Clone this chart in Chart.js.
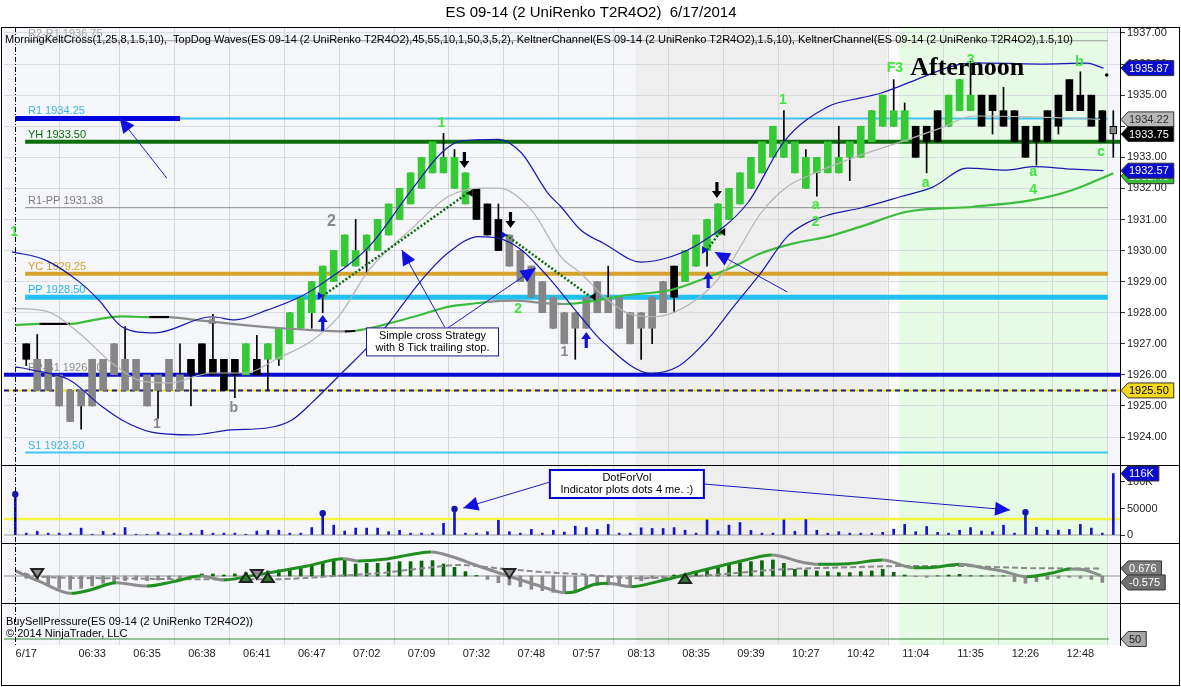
<!DOCTYPE html>
<html>
<head>
<meta charset="utf-8">
<title>ES 09-14 (2 UniRenko T2R4O2) 6/17/2014</title>
<script src="https://cdn.jsdelivr.net/npm/chart.js@4.4.1/dist/chart.umd.min.js"></script>
<style>
  html, body { margin: 0; padding: 0; background: #fff; }
  #wrap { width: 1181px; height: 687px; }
</style>
</head>
<body>
<div id="wrap"><canvas id="chart" width="1181" height="687"></canvas></div>
<script>
// ---- axis labels ----
const xTickIdx = [0, 6, 11, 16, 21, 26, 31, 36, 41, 46, 51, 56, 61, 66, 71, 76, 81, 86, 91, 96];
const xTickLabels = ['6/17', '06:33', '06:35', '06:38', '06:41', '06:47', '07:02', '07:09', '07:32', '07:48',
  '07:57', '08:13', '08:35', '09:39', '10:27', '10:42', '11:04', '11:35', '12:26', '12:48'];
const priceTicks = [1924, 1925, 1926, 1927, 1928, 1929, 1930, 1931, 1932, 1933, 1934, 1935, 1936, 1937];
const volTicks = [0, 50000, 100000];
const volTickLabels = ['0', '50000', '100K'];

// ---- renko bars (index 0..99) ----
const opens = [
  1927.0, 1926.5, 1926.5, 1926.0, 1925.5, 1925.5, 1926.5, 1926.5, 1927.0, 1926.5,
  1926.5, 1926.0, 1926.0, 1926.5, 1926.0, 1926.5, 1927.0, 1926.5, 1926.5, 1926.5,
  1926.0, 1926.5, 1926.5, 1926.5, 1927.0, 1927.5, 1928.0, 1928.5, 1929.0, 1929.5,
  1929.5, 1930.0, 1930.0, 1930.5, 1931.0, 1931.5, 1932.0, 1932.5, 1932.5, 1932.0,
  1931.5, 1932.0, 1931.5, 1931.0, 1930.5, 1930.0, 1929.5, 1929.0, 1928.5, 1928.0,
  1928.0, 1928.5, 1929.0, 1928.5, 1928.5, 1928.0, 1928.0, 1928.5, 1929.0, 1929.5,
  1929.0, 1929.5, 1930.0, 1930.5, 1931.0, 1931.5, 1932.0, 1932.5, 1933.0, 1933.0,
  1932.5, 1932.0, 1932.5, 1932.5, 1932.5, 1933.0, 1933.0, 1933.5, 1934.0, 1934.0,
  1933.5, 1934.0, 1934.0, 1933.5, 1934.0, 1934.5, 1934.5, 1935.0, 1935.0, 1934.5,
  1934.5, 1934.0, 1934.0, 1933.5, 1934.0, 1934.5, 1935.0, 1935.0, 1934.5, 1934.0];
const closes = [
  1926.5, 1925.5, 1925.5, 1925.0, 1924.5, 1925.0, 1925.0, 1925.5, 1926.0, 1925.5,
  1925.5, 1925.0, 1925.5, 1925.5, 1925.5, 1926.0, 1926.0, 1926.0, 1925.5, 1926.0,
  1927.0, 1926.0, 1927.0, 1927.5, 1928.0, 1928.5, 1929.0, 1929.5, 1930.0, 1930.5,
  1930.0, 1930.5, 1931.0, 1931.5, 1932.0, 1932.5, 1933.0, 1933.5, 1933.0, 1933.0,
  1932.5, 1931.0, 1930.5, 1930.0, 1929.5, 1929.0, 1928.5, 1928.0, 1927.5, 1927.0,
  1927.5, 1927.5, 1928.0, 1928.0, 1927.5, 1927.0, 1927.5, 1927.5, 1928.0, 1928.5,
  1930.0, 1930.5, 1931.0, 1931.5, 1932.0, 1932.5, 1933.0, 1933.5, 1934.0, 1933.5,
  1933.5, 1933.0, 1933.0, 1933.5, 1933.0, 1933.5, 1934.0, 1934.5, 1935.0, 1934.5,
  1934.5, 1933.0, 1933.5, 1934.5, 1935.0, 1935.5, 1935.0, 1934.0, 1934.5, 1934.0,
  1933.5, 1933.0, 1933.5, 1934.5, 1935.0, 1935.5, 1934.5, 1934.0, 1933.5, 1933.75];
// wick extremes where they reach past the body (null = none)
const highs = [
  null, 1927.3, null, null, null, null, null, null, null, 1927.55,
  null, null, null, null, 1927.0, null, null, 1927.95, null, null,
  null, 1927.27, null, null, null, null, null, null, null, null,
  1931.0, null, null, null, null, null, null, null, 1933.77, 1933.25,
  null, null, null, 1931.5, null, null, null, null, null, null,
  null, null, null, 1929.5, null, null, null, null, null, null,
  null, null, null, null, null, null, null, null, null, 1934.5,
  null, 1933.25, null, null, 1934.0, null, null, null, null, 1935.5,
  1934.75, null, null, null, null, null, 1936.1, null, null, 1935.25,
  null, null, null, null, null, null, 1935.75, null, null, 1934.5];
const lows = [
  1926.3, null, null, null, null, 1924.25, null, null, null, null,
  null, null, 1924.6, null, null, 1925.0, null, null, null, 1925.27,
  null, null, 1925.5, 1926.3, null, null, 1927.5, 1928.0, null, null,
  null, 1929.27, null, null, null, null, null, null, null, null,
  null, null, null, null, null, null, null, null, null, null,
  1926.5, null, null, null, null, null, 1926.5, 1927.0, null, 1928.0,
  null, null, 1929.5, null, null, null, null, null, null, null,
  null, null, 1931.75, null, null, 1932.25, null, null, null, null,
  null, null, 1932.5, null, null, null, null, null, 1933.75, null,
  null, null, 1932.75, null, 1933.75, null, null, null, null, 1933.0];
// paint state of each bar: G = up wave, K = neutral, S = down wave
const barPaint = [
  'K','S','S','S','S','S','S','S','S','S',
  'S','S','S','S','S','K','K','K','K','K',
  'G','K','G','G','G','G','G','G','G','G',
  'G','G','G','G','G','G','G','G','G','G',
  'G','K','K','K','S','S','S','S','S','S',
  'S','S','S','S','S','S','S','S','S','K',
  'G','G','G','G','G','G','G','G','G','G',
  'G','G','G','G','G','G','G','G','G','G',
  'G','K','K','K','G','G','G','K','K','K',
  'K','K','K','K','K','K','K','K','K','S'];

// ---- indicator lines, read as [bar index, value] ----
const keltUpper = [[-1.3,1929.96],[1.7,1929.7],[4.8,1929.0],[6.6,1928.41],[8.7,1927.55],[11.7,1927.35],[16.9,1927.87],
  [19,1927.77],[22,1928.09],[25,1928.52],[27.2,1929.0],[31.2,1930.12],[35.3,1932.05],[37.8,1933.14],[39.6,1933.53],
  [43,1933.58],[45.1,1933.14],[47.5,1931.85],[48.7,1931.41],[50.5,1930.66],[52.6,1930.23],[56,1929.63],[58.7,1929.8],
  [61.4,1930.24],[65.7,1931.53],[69,1933.5],[73,1934.63],[76,1934.91],[77.8,1935.06],[81.7,1935.59],[84.2,1935.92],
  [86.3,1936.04],[92.3,1936.0],[96.6,1936.03],[98.1,1935.87]];
const keltLower = [[-1,1926.26],[0.5,1926.16],[3.9,1925.84],[6.9,1924.98],[8.7,1924.55],[11.4,1924.16],[15.1,1924.07],
  [18.7,1924.23],[21.9,1924.29],[24.2,1924.55],[26,1925.1],[28.4,1925.94],[32.3,1927.35],[36,1929.05],[38.4,1929.92],
  [41.2,1930.45],[43,1930.4],[45.1,1930.02],[47.5,1929.16],[50.5,1927.87],[52.6,1927.03],[56.9,1926.05],[59.3,1926.26],
  [62,1927.12],[64.4,1928.19],[66.9,1929.28],[69.3,1930.45],[71.1,1930.89],[73,1931.14],[76,1931.37],[79.6,1931.73],
  [82.6,1932.05],[85.7,1932.65],[89.3,1932.59],[91.7,1932.7],[95.3,1932.62],[98.1,1932.57]];
const keltMid = [[-1.3,1928.14],[1.7,1928.06],[4.8,1927.35],[7.8,1926.38],[10.8,1925.78],[13,1925.74],[16.9,1926.06],
  [19.9,1926.06],[23,1926.55],[26,1927.1],[28.5,1927.9],[31.2,1929.37],[35.3,1930.77],[38.4,1931.73],[41.4,1932.01],
  [43,1932.01],[46,1931.31],[48.7,1929.8],[50.5,1929.27],[52.6,1928.52],[54.8,1927.98],[57.2,1927.87],[61.4,1928.52],
  [63.9,1929.48],[66.9,1931.2],[69.3,1932.05],[71.4,1932.43],[76,1933.07],[80.2,1933.56],[83.2,1933.93],[86.3,1934.33],
  [91.5,1934.3],[97.8,1934.22]];
const waveAvg = [[-1,1927.6],[1.2,1927.64],[4,1927.64],[6.2,1927.77],[8.7,1927.88],[11.2,1927.86],[13,1927.86],
  [15.3,1927.77],[19.9,1927.6],[23.3,1927.5],[26,1927.44],[29,1927.4],[30,1927.42],[35.3,1927.87],[38.4,1928.19],
  [41.4,1928.32],[42,1928.35],[44.4,1928.39],[47.5,1928.3],[49,1928.28],[54.8,1928.57],[58.7,1928.73],[61.4,1929.05],
  [64.4,1929.48],[66.9,1929.91],[69.9,1930.23],[73,1930.45],[76,1930.77],[80.2,1931.25],[86.3,1931.41],[91.7,1931.63],
  [95.3,1931.95],[99,1932.49]];
const waveAvgState = ['up','flat','up','up','up','flat','down','down','down','down','down','flat','up','up','up','up',
  'down','down','down','up','up','up','up','up','up','up','up','up','up','up','up','up','up'];

// ---- pivot levels and drawn lines ----
const levelNames = ['R2-R1', 'R1', 'YH', 'R1-PP', 'YC', 'PP', 'PP-S1', 'S1'];
const levelValues = [1936.75, 1934.25, 1933.50, 1931.38, 1929.25, 1928.50, 1926.00, 1923.50];
const drawnLines = [1926.00, 1925.50];

// ---- volume (index -1..99) ----
const volFirst = -1;
const volume = [
  77000, 3500, 6800, 3500, 3500, 3500, 13000, 1500, 6800, 3500, 14000,
  1500, 1500, 5500, 3500, 3500, 3500, 9000, 3500, 3500, 3500,
  1500, 7400, 8600, 9000, 3500, 3500, 14000, 41000, 18500, 7400,
  13000, 13000, 13000, 6200, 9000, 3500, 3500, 3500, 22000, 49000,
  3500, 3500, 6200, 27800, 6200, 3500, 10500, 3500, 9000, 5500,
  16700, 14000, 10500, 20000, 3500, 3500, 13600, 12300, 12300, 14000,
  9000, 3500, 28400, 7400, 18500, 23500, 8600, 3500, 3500, 28400,
  6800, 29000, 9000, 3500, 6200, 3500, 3500, 3500, 5000, 11000,
  20000, 6200, 16000, 5000, 3500, 9000, 14000, 7400, 6200, 18500,
  3500, 43000, 14800, 9000, 9000, 10500, 20000, 13000, 3500, 116000];
const volThreshold = 30000;
const volDotIdx = [-1, 27, 39, 91];

// ---- TopDog oscillator (index 0..98) ----
const oscHist = [
  -0.2, -0.36, -0.8, -1.1, -1.19, -1.1, -0.89, -0.65, -0.5, -0.42,
  -0.36, -0.42, -0.36, -0.3, -0.21, -0.12, 0.18, 0.18, 0.09, 0.18,
  0.3, 0.15, 0.45, 0.54, 0.68, 0.83, 1.04, 1.22, 1.34, 1.43,
  1.07, 1.13, 1.13, 1.19, 1.28, 1.28, 1.34, 1.37, 1.07, 0.77,
  0.39, 0.05, -0.3, -0.6, -0.8, -0.95, -1.19, -1.31, -1.46, -1.55,
  -1.4, -1.0, -0.85, -0.8, -0.71, -0.95, -0.42, -0.21, -0.12, 0.09,
  0.15, 0.39, 0.6, 0.77, 1.04, 1.19, 1.28, 1.37, 1.43, 1.13,
  0.6, 0.54, 0.45, 0.39, 0.3, 0.3, 0.39, 0.45, 0.6, 0.33,
  0.09, -0.06, -0.12, 0.02, 0.09, 0.15, 0.03, 0.02, 0.02, 0.02,
  -0.5, -0.65, -0.5, -0.3, -0.2, -0.12, -0.2, -0.3, -0.575];
const oscFast = [[-1,0.45],[1.25,-0.5],[4.1,-1.55],[5.8,-1.25],[8.2,-0.6],[11,-0.9],[13.4,-0.5],[15.9,0],[18,-0.36],
  [20.1,-0.05],[22.2,0.3],[25.6,0.9],[28.9,1.55],[30.2,1.34],[32.6,1.49],[35.3,1.96],[36.9,2.14],[38.8,1.72],[40.9,0.98],
  [44.1,-0.06],[46.5,-0.8],[49.1,-1.49],[50,-1.4],[51.9,-0.71],[53,-0.65],[55.1,-0.95],[57.5,-0.5],[59.9,0.09],[62.7,0.78],
  [65.5,1.43],[67.9,1.88],[70.7,1.22],[72.1,1.05],[74.9,1.1],[78,1.43],[80.8,0.74],[82.2,0.74],[85,1.04],[87.4,0.69],
  [88.8,0.47],[91.1,-0.06],[93.3,0.24],[95.1,0.63],[96.4,0.54],[97.9,0.03]];
const oscSlow = [[-1,0.45],[1.25,-0.06],[8.2,-0.2],[15.2,-0.3],[22.2,-0.3],[28.1,0],[32.6,0.3],[36.1,0.69],[39.5,0.98],
  [43,0.69],[46.5,0.39],[50.5,0.15],[55.7,-0.2],[59.9,-0.06],[64.4,0.24],[67.9,0.54],[74.9,0.78],[80.1,0.89],[85.3,0.89],
  [88.8,0.78],[92.3,0.69],[97.9,0.676]];
const oscSellMarks = [[1, 0.27], [21, 0.18], [44, 0.27]];
const oscBuyMarks = [[20, -0.18], [22, -0.18], [60, -0.27]];
const bspLevel = 50;

// ---- sessions and chart notes ----
const sessionBreak = -1;
const sessionShades = [[55.5, 78.45, 'midday'], [78.45, 79.5, 'gap'], [79.5, 98.5, 'afternoon']];
const waveLabels = [
  ['1', -1.1, 1930.6, 'up'], ['2', 27.8, 1930.92, 'dn'], ['1', 37.8, 1934.1, 'up'], ['1', 11.9, 1924.42, 'dn'],
  ['b', 18.9, 1924.93, 'dn'], ['a', 16.9, 1927.77, 'dn'], ['2', 44.8, 1928.12, 'up'], ['1', 49, 1926.74, 'dn'],
  ['1', 68.9, 1934.84, 'up'], ['a', 71.9, 1931.47, 'up'], ['2', 71.9, 1930.92, 'up'], ['F3', 79.1, 1935.87, 'up'],
  ['3', 86.0, 1936.13, 'up'], ['a', 81.9, 1932.17, 'up'], ['a', 91.7, 1932.53, 'up'], ['4', 91.7, 1931.95, 'up'],
  ['b', 95.9, 1936.07, 'up'], ['c', 97.9, 1933.17, 'up']];
const buyArrows = [[27, 1927.67], [51, 1927.12], [62.1, 1929.05]];
const sellArrows = [[39.9, 1932.91], [44.1, 1930.98], [62.9, 1931.95]];
const trailStops = [[27, 1928.54, 40.2, 1931.85], [43.7, 1930.5, 51.4, 1928.51], [62, 1930.02, 63.2, 1930.6]];
const priceCallouts = [[12.8, 1932.33, 8.5, 1934.27], [38.1, 1927.54, 34.2, 1930.02],
  [38.4, 1927.51, 46.4, 1929.44], [69.3, 1928.67, 62.7, 1929.95]];
const volCallouts = [[47.7, 100000, 39.8, 50943], [61.7, 96226, 89.6, 47170]];

const FONT = "'Liberation Sans', Arial, Helvetica, sans-serif";
const GREEN = '#36c936', LIME = '#3ee63e', GRAY = '#888888';
const paintColor = { G: GREEN, K: '#000000', S: '#868686' };
const avgColor = { up: '#3cbc3c', flat: '#000000', down: '#8c8c8c' };
const levelStyle = {
  'R2-R1': { line: '#9a9a9a', width: 1, text: '#a6a6a6', from: -0.1, to: 98.5 },
  'R1':    { line: '#3ec2f2', width: 2, text: '#3cb4e6', from: -1, to: 98.5 },
  'YH':    { line: '#0b6f0b', width: 4, text: '#0b6f0b', from: -0.1, to: 99.61 },
  'R1-PP': { line: '#8c8c8c', width: 1, text: '#7c7c7c', from: -0.1, to: 98.5 },
  'YC':    { line: '#d6a22c', width: 4, text: '#d6a22c', from: -0.1, to: 98.5 },
  'PP':    { line: '#20c0f2', width: 5, text: '#22b4e8', from: -0.1, to: 98.5 },
  'PP-S1': { line: '#9a9a9a', width: 1, text: '#8c8c8c', from: -0.1, to: 98.5 },
  'S1':    { line: '#40c8f2', width: 2, text: '#3cb4e6', from: -0.1, to: 98.5 }
};
const X_MIN = -2.027, X_MAX = 99.61;

const pts = arr => arr.map(([x, y]) => ({ x, y }));
const flat = (v, a, b) => [{ x: a, y: v }, { x: b, y: v }];

const bodyData = opens.map((o, i) => ({ x: i, y: [o, closes[i]] }));
const wickData = opens.map((o, i) => ({
  x: i, y: [lows[i] ?? Math.min(o, closes[i]), highs[i] ?? Math.max(o, closes[i])]
}));
const volData = volume.map((v, k) => ({ x: k + volFirst, y: v }));
const histData = oscHist.map((v, i) => ({ x: i, y: v }));

const levelSets = levelNames.map((n, k) => ({
  type: 'line', yAxisID: 'y', data: flat(levelValues[k], levelStyle[n].from, levelStyle[n].to),
  borderColor: levelStyle[n].line, borderWidth: levelStyle[n].width, pointRadius: 0, order: 20
}));

function lineSet(data, yAxisID, color, width, order, extra) {
  return Object.assign({ type: 'line', yAxisID, data: pts(data), borderColor: color, borderWidth: width,
    pointRadius: 0, cubicInterpolationMode: 'monotone', fill: false, order }, extra || {});
}

const datasets = [
  ...levelSets,
  { type: 'line', yAxisID: 'y', data: flat(levelValues[1], -1, 14), borderColor: '#0000dd', borderWidth: 5, pointRadius: 0, order: 19 },
  { type: 'line', yAxisID: 'y', data: flat(drawnLines[0], X_MIN, X_MAX), borderColor: '#0a0ad0', borderWidth: 4, pointRadius: 0, order: 19 },
  { type: 'line', yAxisID: 'y', data: flat(drawnLines[1], X_MIN, X_MAX), borderColor: '#efe21a', borderWidth: 2, pointRadius: 0, order: 19 },
  { type: 'line', yAxisID: 'y', data: flat(drawnLines[1], X_MIN, X_MAX), borderColor: '#1c1ca8', borderWidth: 2, borderDash: [5, 4], pointRadius: 0, order: 18 },
  { type: 'bar', yAxisID: 'y', data: wickData, backgroundColor: '#000', barThickness: 1, grouped: false, order: 12 },
  { type: 'bar', yAxisID: 'y', data: bodyData, grouped: false, order: 11, barThickness: 7,
    backgroundColor: barPaint.map(p => paintColor[p]), borderColor: '#000', borderSkipped: false,
    borderWidth: ctx => (ctx.dataIndex === opens.length - 1 ? 1 : 0) },
  lineSet(waveAvg, 'y', avgColor.up, 2.2, 4, { segment: { borderColor: c => avgColor[waveAvgState[c.p0DataIndex]] } }),
  lineSet(keltMid, 'y', '#b4b4b4', 1.2, 3),
  lineSet(keltUpper, 'y', '#1818b0', 1.2, 2),
  lineSet(keltLower, 'y', '#1818b0', 1.2, 2),
  // volume pane
  { type: 'line', yAxisID: 'yv', data: flat(0, X_MIN, X_MAX), borderColor: '#9a9a9a', borderWidth: 1, pointRadius: 0, order: 9 },
  { type: 'line', yAxisID: 'yv', data: flat(volThreshold, X_MIN, X_MAX), borderColor: '#f4f43a', borderWidth: 2.5, pointRadius: 0, order: 9 },
  { type: 'bar', yAxisID: 'yv', data: volData, backgroundColor: '#1414c8', barThickness: 2, grouped: false, order: 8 },
  { type: 'line', yAxisID: 'yv', showLine: false, data: volDotIdx.map(i => ({ x: i, y: volume[i - volFirst] })),
    pointRadius: 3.2, pointBackgroundColor: '#1414b4', pointBorderWidth: 0, order: 7 },
  // oscillator pane
  { type: 'line', yAxisID: 'yo', data: flat(0, X_MIN, X_MAX), borderColor: '#909090', borderWidth: 1, pointRadius: 0, order: 9 },
  { type: 'bar', yAxisID: 'yo', data: histData, grouped: false, barThickness: 3, order: 8,
    backgroundColor: oscHist.map(v => (v >= 0 ? '#0b660b' : '#8a8a8a')) },
  lineSet(oscSlow, 'yo', '#8a8a8a', 2, 6, { borderDash: [6, 3] }),
  lineSet(oscFast, 'yo', '#1f8f1f', 3, 5, { segment: { borderColor: c => (c.p1.parsed.y >= c.p0.parsed.y ? '#1f8f1f' : '#8c8c8c') } }),
  // buy/sell pressure pane
  { type: 'line', yAxisID: 'yb', data: flat(bspLevel, X_MIN, 98.6), borderColor: '#3a8a3a', borderWidth: 1, pointRadius: 0, order: 9 }
];

function arrowHead(ctx, x0, y0, x1, y1, len, half) {
  const a = Math.atan2(y1 - y0, x1 - x0), c = Math.cos(a), s = Math.sin(a);
  ctx.beginPath();
  ctx.moveTo(x1, y1);
  ctx.lineTo(x1 - len * c + half * s, y1 - len * s - half * c);
  ctx.lineTo(x1 - len * c - half * s, y1 - len * s + half * c);
  ctx.closePath();
  ctx.fill();
}
function blockArrow(ctx, x, y, dir) { // dir -1 = up, 1 = down
  ctx.beginPath();
  ctx.moveTo(x, y + dir * 8);
  ctx.lineTo(x - 5, y + dir * 1);
  ctx.lineTo(x - 1.6, y + dir * 1);
  ctx.lineTo(x - 1.6, y - dir * 8);
  ctx.lineTo(x + 1.6, y - dir * 8);
  ctx.lineTo(x + 1.6, y + dir * 1);
  ctx.lineTo(x + 5, y + dir * 1);
  ctx.closePath();
  ctx.fill();
}
function tag(ctx, x, y, text, bg, fg) {
  ctx.font = '11px ' + FONT;
  const w = ctx.measureText(text).width + 13;
  ctx.beginPath();
  ctx.moveTo(x, y);
  ctx.lineTo(x + 7, y - 7.5);
  ctx.lineTo(x + w, y - 7.5);
  ctx.lineTo(x + w, y + 7.5);
  ctx.lineTo(x + 7, y + 7.5);
  ctx.closePath();
  ctx.fillStyle = bg;
  ctx.fill();
  ctx.strokeStyle = '#333';
  ctx.lineWidth = 1;
  ctx.stroke();
  ctx.fillStyle = fg;
  ctx.textAlign = 'left';
  ctx.textBaseline = 'middle';
  ctx.fillText(text, x + 8, y + 0.5);
}
function noteBox(ctx, cx, cy, w, h, lines, border, bw) {
  ctx.fillStyle = '#fff';
  ctx.fillRect(cx - w / 2, cy - h / 2, w, h);
  ctx.strokeStyle = border;
  ctx.lineWidth = bw;
  ctx.strokeRect(cx - w / 2, cy - h / 2, w, h);
  ctx.fillStyle = '#000';
  ctx.font = '11px ' + FONT;
  ctx.textAlign = 'center';
  ctx.textBaseline = 'middle';
  lines.forEach((t, k) => ctx.fillText(t, cx, cy + (k - (lines.length - 1) / 2) * 12.5));
}

const ninja = {
  id: 'ninja',
  beforeDraw(chart) {
    const { ctx, chartArea: a } = chart;
    const X = v => chart.scales.x.getPixelForValue(v);
    ctx.save();
    ctx.fillStyle = '#fff';
    ctx.fillRect(0, 0, chart.width, chart.height);
    ctx.fillStyle = '#f4f6fa';
    ctx.fillRect(a.left, a.top, a.right - a.left, a.bottom - a.top);
    const shade = { midday: '#eeeeee', gap: '#fbfbfb', afternoon: '#e6fae6' };
    sessionShades.forEach(([f, t, k]) => {
      ctx.fillStyle = shade[k];
      ctx.fillRect(X(f), a.top, X(t) - X(f), a.bottom - a.top);
    });
    ctx.restore();
  },
  beforeDatasetsDraw(chart) {
    const { ctx, chartArea: a } = chart;
    const Y = v => chart.scales.y.getPixelForValue(v);
    ctx.save();
    ctx.font = '11px ' + FONT;
    ctx.textAlign = 'left';
    ctx.textBaseline = 'alphabetic';
    levelNames.forEach((n, k) => {
      ctx.fillStyle = levelStyle[n].text;
      ctx.fillText(n + ' ' + levelValues[k].toFixed(2), a.left + 24, Y(levelValues[k]) - 4);
    });
    ctx.restore();
  },
  afterDatasetsDraw(chart) {
    const { ctx, chartArea: a, scales } = chart;
    const X = v => scales.x.getPixelForValue(v);
    const Y = v => scales.y.getPixelForValue(v);
    const YV = v => scales.yv.getPixelForValue(v);
    const YO = v => scales.yo.getPixelForValue(v);
    ctx.save();
    // session break
    ctx.strokeStyle = '#000';
    ctx.lineWidth = 1;
    ctx.setLineDash([5, 2, 1, 2]);
    ctx.beginPath();
    ctx.moveTo(Math.round(X(sessionBreak)) + 0.5, a.top);
    ctx.lineTo(Math.round(X(sessionBreak)) + 0.5, a.bottom);
    ctx.stroke();
    // trailing stops
    ctx.strokeStyle = '#0c6a0c';
    ctx.lineWidth = 2.5;
    ctx.setLineDash([2, 2]);
    trailStops.forEach(([i0, p0, i1, p1]) => {
      ctx.beginPath();
      ctx.moveTo(X(i0), Y(p0));
      ctx.lineTo(X(i1), Y(p1));
      ctx.stroke();
    });
    ctx.setLineDash([]);
    trailStops.forEach(([i0, p0, i1, p1]) => {
      ctx.fillStyle = '#1010d0';
      arrowHead(ctx, X(i0) - 6, Y(p0), X(i0) + 1, Y(p0), 6, 4);
      ctx.fillStyle = '#000';
      arrowHead(ctx, X(i1) + 6, Y(p1), X(i1) - 1, Y(p1), 6, 4);
    });
    // entry / exit arrows
    ctx.fillStyle = '#1010d8';
    buyArrows.forEach(([i, p]) => blockArrow(ctx, X(i), Y(p), -1));
    ctx.fillStyle = '#000';
    sellArrows.forEach(([i, p]) => blockArrow(ctx, X(i), Y(p), 1));
    // callouts
    ctx.strokeStyle = '#1c1cc0';
    ctx.fillStyle = '#1010e0';
    ctx.lineWidth = 1;
    const callout = (x0, y0, x1, y1) => {
      ctx.beginPath();
      ctx.moveTo(x0, y0);
      ctx.lineTo(x1, y1);
      ctx.stroke();
      arrowHead(ctx, x0, y0, x1, y1, 15, 7);
    };
    priceCallouts.forEach(([i0, p0, i1, p1]) => callout(X(i0), Y(p0), X(i1), Y(p1)));
    volCallouts.forEach(([i0, v0, i1, v1]) => callout(X(i0), YV(v0), X(i1), YV(v1)));
    noteBox(ctx, X(37), Y(1927.06), 132, 28, ['Simple cross Strategy', 'with 8 Tick trailing stop.'], '#1a1a80', 1);
    noteBox(ctx, X(54.7), YV(96226), 154, 28, ['DotForVol', 'Indicator plots dots 4 me. :)'], '#0000cc', 2);
    // wave labels
    ctx.textAlign = 'center';
    ctx.textBaseline = 'middle';
    waveLabels.forEach(([t, i, p, k]) => {
      ctx.font = 'bold ' + (k === 'dn' && t === '2' ? 16 : 14) + 'px ' + FONT;
      ctx.fillStyle = k === 'up' ? LIME : GRAY;
      ctx.fillText(t, X(i), Y(p));
    });
    ctx.font = 'bold 26px "Liberation Serif", "Times New Roman", serif';
    ctx.fillStyle = '#000';
    ctx.fillText('Afternoon', X(85.7), Y(1935.87));
    ctx.beginPath();
    ctx.arc(X(98.4), Y(1935.65), 1.8, 0, Math.PI * 2);
    ctx.fill();
    // oscillator markers
    const tri = (i, v, up, fill) => {
      const x = X(i), y = YO(v);
      ctx.beginPath();
      if (up) { ctx.moveTo(x, y - 5); ctx.lineTo(x + 6, y + 4); ctx.lineTo(x - 6, y + 4); }
      else { ctx.moveTo(x, y + 5); ctx.lineTo(x + 6, y - 4); ctx.lineTo(x - 6, y - 4); }
      ctx.closePath();
      ctx.fillStyle = fill;
      ctx.fill();
      ctx.strokeStyle = '#222';
      ctx.stroke();
    };
    oscSellMarks.forEach(([i, v]) => tri(i, v, false, '#8c8c8c'));
    oscBuyMarks.forEach(([i, v]) => tri(i, v, true, '#2a7a2a'));
    ctx.restore();
  },
  afterDraw(chart) {
    const { ctx, chartArea: a, scales } = chart;
    const W = chart.width;
    ctx.save();
    // panel separators and frame
    ctx.strokeStyle = '#000';
    ctx.lineWidth = 1;
    ['yv', 'yo', 'yb'].forEach(id => {
      const y = Math.round(scales[id].top) + 0.5;
      ctx.beginPath();
      ctx.moveTo(1, y);
      ctx.lineTo(W - 1, y);
      ctx.stroke();
    });
    ctx.strokeRect(1.5, a.top + 0.5, W - 3, chart.height - a.top - 2);
    // title and legend text
    ctx.fillStyle = '#000';
    ctx.font = '15px ' + FONT;
    ctx.textAlign = 'center';
    ctx.textBaseline = 'middle';
    ctx.fillText('ES 09-14 (2 UniRenko T2R4O2)  6/17/2014', 591, 13);
    ctx.font = '11px ' + FONT;
    ctx.textAlign = 'left';
    ctx.fillText('MorningKeltCross(1,25,8,1.5,10),  TopDog Waves(ES 09-14 (2 UniRenko T2R4O2),45,55,10,1,50,3,5,2), ' +
      'KeltnerChannel(ES 09-14 (2 UniRenko T2R4O2),1.5,10), KeltnerChannel(ES 09-14 (2 UniRenko T2R4O2),1.5,10)',
      a.left + 1, a.top + 13, 1068);
    const yb = scales.yb;
    ctx.fillText('BuySellPressure(ES 09-14 (2 UniRenko T2R4O2))', a.left + 2, yb.top + 19);
    ctx.fillText('\u00a9 2014 NinjaTrader, LLC', a.left + 2, yb.top + 31);
    // value tags on the right axis
    const ax = a.right + 1;
    const Y = v => scales.y.getPixelForValue(v);
    const last = arr => arr[arr.length - 1][1];
    tag(ctx, ax, Y(last(keltUpper)), last(keltUpper).toFixed(2), '#0a0ad2', '#fff');
    tag(ctx, ax, Y(last(keltMid)), last(keltMid).toFixed(2), '#b8b8b8', '#333');
    tag(ctx, ax, Y(closes[closes.length - 1]), closes[closes.length - 1].toFixed(2), '#000', '#fff');
    tag(ctx, ax, Y(last(waveAvg)) + 3, last(waveAvg).toFixed(2), '#3cbc3c', '#fff');
    tag(ctx, ax, Y(last(keltLower)), last(keltLower).toFixed(2), '#0a0ad2', '#fff');
    tag(ctx, ax, Y(drawnLines[1]), drawnLines[1].toFixed(2), '#f4d81a', '#000');
    const lastVol = volume[volume.length - 1];
    tag(ctx, ax, scales.yv.getPixelForValue(lastVol), Math.round(lastVol / 1000) + 'K', '#0a0ad2', '#fff');
    const slowLast = last(oscSlow), histLast = oscHist[oscHist.length - 1];
    tag(ctx, ax, scales.yo.getPixelForValue(slowLast), slowLast.toFixed(3), '#7a7a7a', '#fff');
    tag(ctx, ax, scales.yo.getPixelForValue(histLast), histLast.toFixed(3), '#6e6e6e', '#fff');
    tag(ctx, ax, yb.getPixelForValue(bspLevel), String(bspLevel), '#a8a8a8', '#222');
    ctx.restore();
  }
};

const tickFont = { family: FONT, size: 11 };
const fixWidth = s => { s.width = 61; };

new Chart(document.getElementById('chart'), {
  type: 'bar',
  data: { datasets },
  plugins: [ninja],
  options: {
    responsive: false,
    animation: false,
    events: [],
    layout: { padding: { left: 2, top: 27, right: 0, bottom: 0 } },
    plugins: { legend: { display: false }, tooltip: { enabled: false } },
    scales: {
      x: {
        type: 'linear', min: X_MIN, max: X_MAX, offset: false,
        afterBuildTicks: s => { s.ticks = xTickIdx.map(v => ({ value: v })); },
        afterFit: s => { s.height = 42; },
        ticks: { callback: v => xTickLabels[xTickIdx.indexOf(v)], font: tickFont, color: '#222',
          maxRotation: 0, autoSkip: false, padding: 2 },
        grid: { color: c => (c.tick && c.tick.value === 0 ? 'rgba(0,0,0,0)' : '#d6d8e0'), drawTicks: false },
        border: { display: false }
      },
      y: {
        position: 'right', stack: 'panes', stackWeight: 438, weight: 1,
        min: 1923.10, max: 1937.193,
        afterBuildTicks: s => { s.ticks = priceTicks.map(v => ({ value: v })); },
        afterFit: fixWidth,
        ticks: { callback: v => v.toFixed(2), font: tickFont, color: '#222', padding: 2 },
        grid: { color: '#dadce4', tickColor: '#333', tickLength: 5 },
        border: { color: '#000' }
      },
      yv: {
        position: 'right', stack: 'panes', stackWeight: 78, weight: 2,
        min: -15094, max: 132075,
        afterBuildTicks: s => { s.ticks = volTicks.map(v => ({ value: v })); },
        afterFit: fixWidth,
        ticks: { callback: v => volTickLabels[volTicks.indexOf(v)], font: tickFont, color: '#222', padding: 2 },
        grid: { drawOnChartArea: false, tickColor: '#333', tickLength: 5 },
        border: { color: '#000' }
      },
      yo: {
        position: 'right', stack: 'panes', stackWeight: 60, weight: 3,
        min: -2.41, max: 2.946,
        afterFit: fixWidth,
        ticks: { display: false },
        grid: { display: false },
        border: { color: '#000' }
      },
      yb: {
        position: 'right', stack: 'panes', stackWeight: 42, weight: 4,
        min: 41.7, max: 100,
        afterFit: fixWidth,
        ticks: { display: false },
        grid: { display: false },
        border: { color: '#000' }
      }
    }
  }
});
</script>
</body>
</html>
